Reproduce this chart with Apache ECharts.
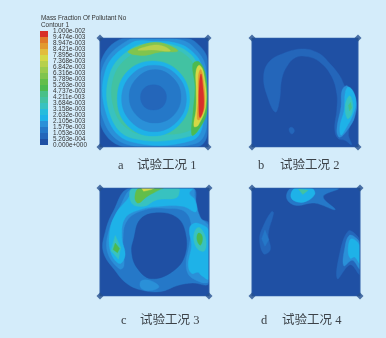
<!DOCTYPE html>
<html><head><meta charset="utf-8">
<style>html,body{margin:0;padding:0;background:#d4ecfa}#c{width:386px;height:338px;filter:blur(0.45px)}</style>
<script src="https://cdn.jsdelivr.net/npm/echarts@6/dist/echarts.min.js"></script>
</head><body><div id="c"></div>
<script>
const legendTitle = ['Mass Fraction Of Pollutant No', 'Contour 1'];
const tickLabels = ['1.000e-002','9.474e-003','8.947e-003','8.421e-003','7.895e-003','7.368e-003','6.842e-003','6.316e-003','5.789e-003','5.263e-003','4.737e-003','4.211e-003','3.684e-003','3.158e-003','2.632e-003','2.105e-003','1.579e-003','1.053e-003','5.263e-004','0.000e+000'];
const captions = [['a','试验工况 1'],['b','试验工况 2'],['c','试验工况 3'],['d','试验工况 4']];
// contour band colours, lowest band first
const palette = ['#1f50a4','#2466ba','#2578c8','#2a90d8','#1eb2e8','#26bcdc','#38c2c0','#42c2a2','#48c088','#4cba50','#62be4a','#80c44e','#9acb4e','#b6d04c','#d4d846','#e2bc3c','#e29a30','#e07a2a','#dc5026'];
const topBand = '#d8302a';
// each entry: [contour band, outline points in percent of the panel]
const panelA = [
 [0,[[0,0],[100,0],[100,100],[0,100]]],
 [2,[[22,0],[79,0],[93,8],[100,22],[100,86],[90,100],[22,100],[0,78],[0,24]]],
 [3,[[26,2],[50,0.5],[76,2],[90,12],[98,28],[99,80],[88,97],[26,98],[3,75],[2,28]]],
 [4,[[28,5],[50,3],[72,5],[86,13],[94,26],[96,75],[85,94],[28,95],[7,73],[5,30]]],
 [6,[[30,9],[50,5],[70,7],[84,15],[90,26],[95,75],[84,90],[30,92],[10,72],[9,33]]],
 [7,[[32,13],[50,8],[68,10],[82,18],[88,30],[90,75],[80,86],[50,88],[30,86],[14,68],[13,35]]],
 [11,[[26,13],[35,8],[50,4],[62,6],[72,12],[55,13],[40,16]]],
 [13,[[35,11],[50,6.5],[60,8],[65,12],[50,11]]],
 [9,[[86,24],[92,22],[98,35],[99,68],[90,86],[85,89],[86,70],[88,45]]],
 [14,[[89,30],[92,25],[96,32],[98,62],[91,80],[87,81],[89,65],[89,45]]],
 [16,[[91,36],[93,29],[95,34],[97,62],[92,75],[90,74],[91,55]]],
 [19,[[92,42],[93.5,33],[95,42],[96,64],[92.5,73],[91.5,60]]],
 [4,[[49,21],[73,31],[83,56],[73,80],[49,90],[25,80],[16,56],[25,31]]],
 [3,[[50,25],[71,34],[80,56],[71,77],[50,86],[29,77],[20,56],[29,34]]],
 [2,[[51,29],[68,37],[75,54],[68,71],[51,78],[34,71],[27,54],[34,37]]],
 [1,[[49.5,43],[58,46],[61.5,54],[58,63],[49.5,66],[41,63],[37.5,54],[41,46]]]
];
const panelB = [
 [0,[[0,0],[100,0],[100,100],[0,100]]],
 [1,[[22,68],[14,52],[11,35],[16,22],[30,14],[48,10],[63,14],[73,23],[83,35],[88,45],[98,57],[95,72],[91,88],[94,98],[88,94],[81,92],[78,83],[80,66],[80,51],[75,35],[64,22],[52,17],[41,18],[33,26],[28,38],[26,57]]],
 [1,[[35,83],[38,82],[40,85],[38,88],[36,87]]],
 [3,[[90,44],[98,57],[97,72],[91,83],[83,91],[80,85],[84,63],[85,48]]],
 [4,[[88,50],[91,45],[96,50],[98,60],[95,71],[89,82],[84,89],[83,81],[87,66]]],
 [6,[[88,62],[92,53],[95,60],[94,70],[90,74]]],
 [8,[[91,62],[93,59],[94,64],[92,67]]]
];
const panelC = [
 [0,[[0,0],[100,0],[100,100],[0,100]]],
 [2,[[27,0],[12,22],[5,40],[3,59],[15,78],[24,88],[36,94],[55,96],[72,90],[85,88],[100,88],[100,33],[90,28],[88,18],[85,0]]],
 [3,[[31,0],[18,18],[8,40],[7,60],[18,75],[22,72],[21,50],[25,30],[42,20],[62,19],[78,22],[84,36],[82,52],[79,72],[84,83],[100,86],[100,36],[92,27],[87,8],[85,0]]],
 [4,[[35,0],[24,12],[15,23],[9,40],[10,60],[18,70],[23,62],[20,46],[23,28],[37,20],[55,17],[76,17],[88,22],[87,11],[82,5],[85,0]]],
 [4,[[84,34],[91,33],[100,40],[100,84],[93,81],[90,78],[84,79],[81,71],[84,53],[82,40]]],
 [6,[[30,0],[29,14],[40,17],[52,11],[70,9],[73,2],[72,0]]],
 [6,[[14,44],[10,58],[17,66],[19,55]]],
 [6,[[88,38],[86,48],[90,57],[96,58],[97,47],[92,37]]],
 [10,[[36,0],[32,9],[35,14],[43,8],[55,1.5],[58,0]]],
 [9,[[14,51],[12,57],[16,60],[18,56]]],
 [9,[[90,42],[89,48],[92,53],[94,48],[93,43]]],
 [14,[[38,0],[40,3],[47,1.5],[50,0]]],
 [3,[[37,87],[42,85],[51,88],[54,92],[46,95],[38,93]]],
 [0,[[31,47],[37,29],[52,23],[70,27],[78,40],[78,62],[67,77],[47,84],[34,74],[29,59]]]
];
const panelD = [
 [0,[[0,0],[100,0],[100,100],[0,100]]],
 [2,[[37,0],[32,9],[40,16],[58,14],[77,20],[66,8],[80,0.5]]],
 [4,[[40,0],[36,8],[42,13],[51,12],[58,6],[57,1.5],[54,0]]],
 [7,[[43,1],[47,6],[52,2]]],
 [1,[[18,22],[11,34],[7,47],[11,61],[17,57],[15,43],[20,23]]],
 [2,[[12,39],[9,47],[12,54],[15.5,48]]],
 [1,[[89,40],[95,42],[100,50],[100,80],[91,71],[79,84],[82,57]]],
 [3,[[90,44],[96,46],[100,52],[100,75],[93,67],[85,72],[86,55]]],
 [4,[[92,47],[89,57],[91,65],[95,64],[100,70],[100,54]]]
];
const panelData = [panelA, panelB, panelC, panelD];
const cornerPoints = [[0,0],[100,0],[100,100],[0,100]];
const panelBoxes = [[100,38,108,109],[252,38,106,109],[100,188,109,108],[252,188,108,108]];
const captionAt = [[118,137,159],[258,280,159],[121,140,314],[261,282,314]];

const grid=[], xAxis=[], yAxis=[], series=[], title=[];
panelBoxes.forEach((b,i)=>{
  grid.push({left:b[0],top:b[1],width:b[2],height:b[3]});
  xAxis.push({type:'value',min:0,max:100,show:false,gridIndex:i});
  yAxis.push({type:'value',min:0,max:100,inverse:true,show:false,gridIndex:i});
  const polys = panelData[i];
  series.push({type:'custom',xAxisIndex:i,yAxisIndex:i,coordinateSystem:'cartesian2d',clip:true,silent:true,
    data:polys.map((p,k)=>[k]),
    renderItem:(params,api)=>{
      const p = polys[params.dataIndex];
      const c = p[0]===19?topBand:palette[p[0]];
      return {type:'polygon',shape:{points:p[1].map(q=>api.coord(q)),smooth:p[1].length>4?0.4:0},
        style:{fill:c,stroke:c,lineWidth:0.4}};
    }});
  series.push({type:'line',xAxisIndex:i,yAxisIndex:i,data:cornerPoints.concat([cornerPoints[0]]),symbol:'none',
    lineStyle:{color:'#2b5aa6',width:1},silent:true,z:3});
  series.push({type:'scatter',xAxisIndex:i,yAxisIndex:i,data:cornerPoints,symbol:'diamond',symbolSize:7,clip:false,
    itemStyle:{color:'#25508f'},silent:true,z:4});
  const capStyle={fontFamily:'"Liberation Serif","Noto Sans CJK SC"',fontSize:12.5,fontWeight:'normal',color:'#3c4248'};
  title.push({text:captions[i][0],left:captionAt[i][0],top:captionAt[i][2],padding:0,textStyle:capStyle});
  title.push({text:captions[i][1],left:captionAt[i][1],top:captionAt[i][2],padding:0,textStyle:capStyle});
});
const li = panelBoxes.length;
grid.push({left:40,top:31,width:8,height:114});
xAxis.push({type:'value',min:0,max:1,show:false,gridIndex:li});
yAxis.push({type:'value',min:0,max:19,interval:1,gridIndex:li,position:'right',
  axisLine:{show:false},axisTick:{show:false},splitLine:{show:false},
  axisLabel:{fontSize:6.4,fontFamily:'"Liberation Sans"',color:'#333',margin:5,formatter:(v)=>tickLabels[19-v]}});
series.push({type:'custom',xAxisIndex:li,yAxisIndex:li,silent:true,
  data:palette.map((c,k)=>[k]),
  renderItem:(params,api)=>{
    const k=params.dataIndex, a=api.coord([0,k+1]), b=api.coord([1,k]);
    return {type:'rect',shape:{x:a[0],y:a[1],width:b[0]-a[0],height:b[1]-a[1]},style:{fill:k===18?topBand:palette[k]}};
  }});
legendTitle.forEach((t,i)=>title.push({text:t,left:41,top:15.5+i*6.5,padding:0,
  textStyle:{fontSize:6.4,fontFamily:'"Liberation Sans"',fontWeight:'normal',color:'#333'}}));

const chart = echarts.init(document.getElementById('c'),null,{renderer:'canvas'});
chart.setOption({animation:false,backgroundColor:'#d4ecfa',title,grid,xAxis,yAxis,series});
</script></body></html>
